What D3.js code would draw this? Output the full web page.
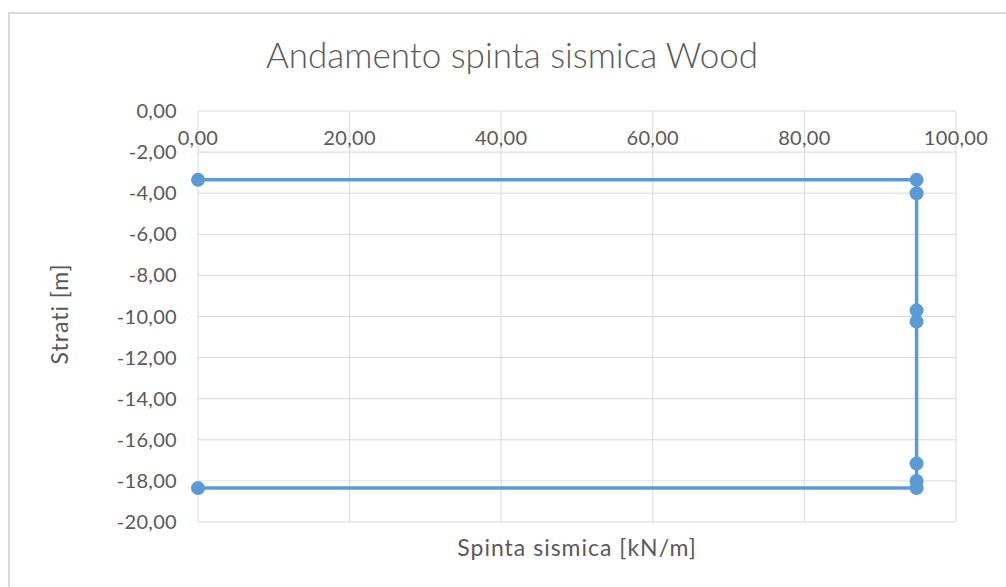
<!DOCTYPE html>
<html>
<head>
<meta charset="utf-8">
<script src="https://cdn.jsdelivr.net/npm/d3@7"></script>
<style>
  body { margin: 0; background: #fff; }
  svg text { font-family: Lato, "Open Sans", sans-serif; fill: #595959; }
</style>
</head>
<body>
<svg class="chart"></svg>
<script>
// Data
const spinta = [0, 94.8, 94.8, 94.8, 94.8, 94.8, 94.8, 94.8, 0];
const strati = [-3.35, -3.35, -4.0, -9.7, -10.25, -17.15, -18.0, -18.35, -18.35];
const xTicks = [0, 20, 40, 60, 80, 100];
const yTicks = [0, -2, -4, -6, -8, -10, -12, -14, -16, -18, -20];

const width = 1006, height = 587;
const fmt = v => d3.format('.2f')(v).replace('.', ',').replace('−', '-');

const svg = d3.select('svg.chart')
  .attr('width', width)
  .attr('height', height);

//Outer chart border
svg.append('rect')
  .attr('x', 9).attr('y', 13)
  .attr('width', width + 20).attr('height', height + 20)
  .attr('fill', 'none')
  .attr('stroke', '#d9d9d9')
  .attr('stroke-width', 2);

const x = d3.scaleLinear().domain([0, 100]).range([198, 956]);
const y = d3.scaleLinear().domain([0, -20]).range([111, 522]);

//Gridlines
svg.append('g')
  .selectAll('line.v')
  .data(xTicks)
  .enter()
  .append('line')
    .attr('x1', d => x(d)).attr('x2', d => x(d))
    .attr('y1', y(0)).attr('y2', y(-20))
    .attr('stroke', '#d9d9d9').attr('stroke-width', 1);

svg.append('g')
  .selectAll('line.h')
  .data(yTicks)
  .enter()
  .append('line')
    .attr('x1', x(0)).attr('x2', x(100))
    .attr('y1', d => y(d)).attr('y2', d => y(d))
    .attr('stroke', '#d9d9d9').attr('stroke-width', 1);

//Tick labels
svg.append('g')
  .selectAll('text')
  .data(yTicks)
  .enter()
  .append('text')
    .attr('x', 177)
    .attr('y', d => y(d))
    .attr('dy', '0.35em')
    .attr('text-anchor', 'end')
    .style('font-size', '20px')
    .style('letter-spacing', '0.3px')
    .text(fmt);

svg.append('g')
  .selectAll('text')
  .data(xTicks)
  .enter()
  .append('text')
    .attr('x', d => x(d))
    .attr('y', 138)
    .attr('dy', '0.35em')
    .attr('text-anchor', 'middle')
    .style('font-size', '20px')
    .style('letter-spacing', '0.3px')
    .text(fmt);

//Series line and markers
const pts = spinta.map((v, i) => [v, strati[i]]);

svg.append('path')
  .datum(pts)
  .attr('d', d3.line().x(d => x(d[0])).y(d => y(d[1])))
  .attr('fill', 'none')
  .attr('stroke', '#5b9bd5')
  .attr('stroke-width', 3.5);

svg.append('g')
  .selectAll('circle')
  .data(pts)
  .enter()
  .append('circle')
    .attr('cx', d => x(d[0]))
    .attr('cy', d => y(d[1]))
    .attr('r', 7)
    .attr('fill', '#5b9bd5');

//Titles
svg.append('text')
  .attr('x', 512).attr('y', 68)
  .attr('text-anchor', 'middle')
  .style('font-size', '35px')
  .style('font-weight', 300)
  .text('Andamento spinta sismica Wood');

svg.append('text')
  .attr('x', 577).attr('y', 556)
  .attr('text-anchor', 'middle')
  .style('font-size', '23px')
  .style('letter-spacing', '1px')
  .text('Spinta sismica [kN/m]');

svg.append('text')
  .attr('transform', 'translate(68,314) rotate(-90)')
  .attr('text-anchor', 'middle')
  .style('font-size', '23px')
  .style('letter-spacing', '1px')
  .text('Strati [m]');
</script>
</body>
</html>
